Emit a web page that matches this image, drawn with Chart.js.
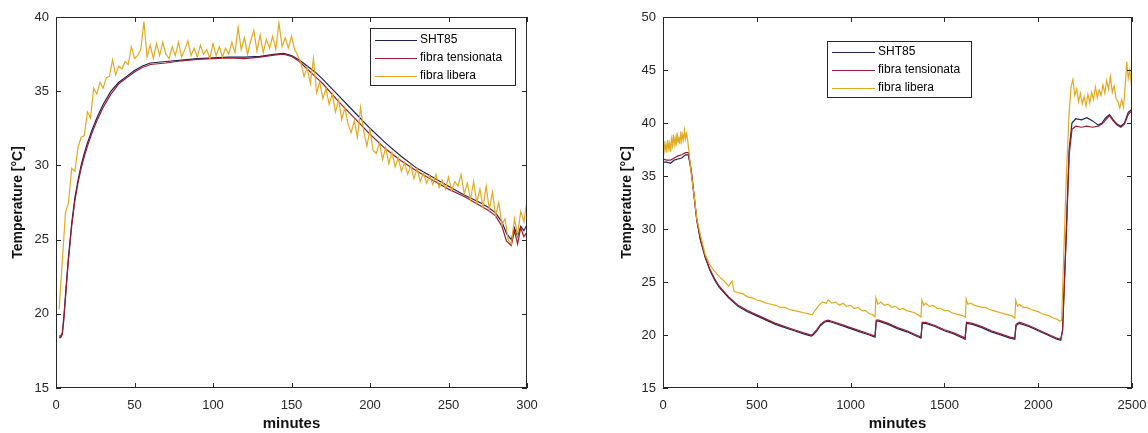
<!DOCTYPE html>
<html>
<head>
<meta charset="utf-8">
<script src="https://cdn.jsdelivr.net/npm/chart.js@4.4.0/dist/chart.umd.min.js"></script>
<style>
    html, body { margin: 0; padding: 0; background: #fff; }
    #wrap { position: relative; width: 1148px; height: 433px; }
    .panel { position: absolute; top: 0; width: 574px; height: 433px; }
</style>
</head>
<body>
<div id="wrap">
    <div class="panel" style="left:0"><canvas id="leftChart"></canvas></div>
    <div class="panel" style="left:574px"><canvas id="rightChart"></canvas></div>
</div>
<script>
// --- 1. DATA ---
const seriesLabels = ['SHT85', 'fibra tensionata', 'fibra libera'];

// left panel: 0-300 minutes
const leftTicksX = [0, 50, 100, 150, 200, 250, 300];
const leftTicksY = [15, 20, 25, 30, 35, 40];

const leftSmoothMin = [2,3,4,5,6,7,8,10,12,14, 16,18,20,23,26,30,35,40,45,50,
    55,60,70,80,90,100,110,120,130,140, 145,150,155,160,165,170,180,190,200,210,
    220,230,240,250,260,270,275,280,284,287, 290,292,294,296,298,300];
const leftSht85 = [18.5,18.5,18.7,19.8,21.2,22.6,23.9,26.1,27.8,29.0, 30.0,30.8,31.5,32.4,33.2,34.1,35.0,35.6,36.0,36.4,
    36.7,36.9,37.0,37.1,37.2,37.25,37.3,37.3,37.35,37.5, 37.55,37.4,37.1,36.7,36.3,35.8,34.7,33.6,32.5,31.5,
    30.6,29.8,29.2,28.6,28.0,27.5,27.2,26.8,26.2,25.4, 25.0,25.8,25.2,25.9,25.6,26.0];
const leftTensionata = [18.4,18.4,18.6,19.6,21.0,22.4,23.7,25.9,27.6,28.8, 29.8,30.6,31.3,32.2,33.0,33.9,34.8,35.5,35.9,36.3,
    36.6,36.8,36.9,37.05,37.15,37.2,37.25,37.2,37.3,37.45, 37.5,37.35,37.0,36.5,36.0,35.5,34.3,33.2,32.1,31.1,
    30.3,29.6,29.0,28.4,27.9,27.3,27.0,26.6,25.9,24.9, 24.6,25.6,24.7,25.8,25.2,25.5];

// fibra libera, one reading every 2 minutes from minute 2
const leftLiberaStart = 2, leftLiberaStep = 2;
const leftLibera = [
    20.3,23.5,26.8,27.5,29.8,29.6,31.2,31.9,32.0,33.6,
    33.2,35.2,34.8,35.6,35.2,35.9,36.0,37.1,36.1,36.7,
    36.5,37.0,36.8,38.0,37.2,37.4,37.8,39.7,37.3,38.1,
    37.2,38.2,37.4,38.3,37.5,37.2,38.0,37.4,38.3,37.3,
    37.8,38.4,37.4,37.9,37.3,38.1,37.5,37.8,37.2,38.2,
    37.4,38.0,37.3,37.9,37.5,38.3,37.6,39.3,37.8,38.6,
    37.5,38.4,39.1,37.7,38.8,37.6,38.5,37.9,38.7,37.8,
    39.6,38.0,38.6,37.9,38.7,37.8,37.4,36.9,36.0,36.6,
    35.5,37.2,34.9,35.6,34.5,35.2,34.1,34.8,33.6,34.4,
    33.1,33.9,32.8,32.2,33.0,31.9,33.9,32.3,31.3,32.4,
    31.0,30.8,31.5,30.4,31.2,30.1,30.9,29.9,30.5,29.6,
    30.2,29.4,30.0,29.1,29.8,28.9,29.5,28.8,29.3,28.7,
    29.4,28.5,29.0,28.4,29.2,28.3,28.9,28.6,29.4,28.1,
    28.8,27.7,28.9,27.5,28.4,27.2,28.6,27.0,28.2,26.6,
    27.5,26.0,26.4,25.0,24.7,26.4,25.3,26.9,26.2,27.6];

// right panel: 0-2500 minutes
const rightTicksX = [0, 500, 1000, 1500, 2000, 2500];
const rightTicksY = [15, 20, 25, 30, 35, 40, 45, 50];

const rightSmoothMin = [0,20,40,60,80,100,120,135, 150,165,180,200,225,250,275,300,
    350,400,450,500,550,600,650,700,750,790,
    800,820,840,860,880,900,950,1000,1050,1100,1130,
    1137,1150,1200,1250,1300,1350,1375,
    1382,1400,1450,1500,1550,1600,1610,
    1618,1650,1700,1750,1800,1850,1875,
    1882,1900,1950,2000,2050,2100,2120,2130,2150,2165,2180,
    2200,2230,2260,2290,2320,2340,2360,2380,2400,2420,2440,2460,2480,2500];
const rightSht85 = [36.3,36.3,36.2,36.5,36.6,36.7,37.0,37.0, 35.5,33.2,30.8,28.9,27.3,26.1,25.2,24.5,
    23.5,22.7,22.2,21.8,21.4,21.0,20.7,20.4,20.1,19.9,
    20.0,20.4,20.9,21.2,21.3,21.2,20.9,20.6,20.3,20.0,19.8,
    21.3,21.3,21.0,20.6,20.3,19.9,19.7,
    21.1,21.1,20.8,20.4,20.1,19.7,19.6,
    21.1,21.0,20.7,20.3,20.0,19.7,19.6,
    20.9,21.1,20.8,20.4,20.0,19.6,19.5,20.5,30.0,37.5,40.0,
    40.4,40.3,40.5,40.2,39.8,40.0,40.5,40.8,40.3,39.9,39.7,40.0,41.0,41.3];
const rightTensionata = [36.6,36.5,36.5,36.7,36.9,37.0,37.2,37.2, 35.6,33.3,30.9,29.0,27.4,26.2,25.3,24.6,
    23.6,22.8,22.3,21.9,21.5,21.1,20.8,20.5,20.2,20.0,
    20.1,20.5,21.0,21.3,21.4,21.3,21.0,20.7,20.4,20.1,19.9,
    21.4,21.4,21.1,20.7,20.4,20.0,19.8,
    21.2,21.2,20.9,20.5,20.2,19.8,19.7,
    21.2,21.1,20.8,20.4,20.1,19.8,19.7,
    21.0,21.2,20.9,20.5,20.1,19.7,19.6,20.4,29.5,37.0,39.4,
    39.7,39.6,39.7,39.6,39.7,39.9,40.3,40.7,40.2,39.8,39.6,39.9,40.8,41.2];

const rightLiberaMin = [0,5,10,15,20,25,30,35,40,45,50,55,60,65,70,75,80,85,90,95,100,105,110,115,120,125,130,
    140,150,165,180,200,225,250,275,300,
    325,350,368,380,400,425,450,475,500,525,550,575,600,625,650,675,700,725,750,775,795,
    810,830,850,870,880,900,920,940,960,980,1000,1020,1040,1060,1080,1100,1120,1130,
    1135,1145,1160,1180,1200,1220,1240,1260,1280,1300,1320,1340,1360,1375,
    1380,1390,1400,1420,1440,1460,1480,1500,1520,1540,1560,1580,1600,1612,
    1616,1625,1640,1660,1680,1700,1720,1740,1760,1780,1800,1820,1840,1860,1876,
    1880,1890,1900,1920,1940,1960,1980,2000,2020,2040,2060,2080,2100,2115,2125,
    2135,2150,2165,
    2175,2185,2195,2205,2215,2225,2235,2245,2255,2265,
    2275,2285,2295,2305,2315,2325,2335,2345,2355,2365,
    2375,2385,2395,2405,2415,2425,2435,2445,2455,2465,
    2472,2480,2488,2495,2500];
const rightLibera = [37.6,38.3,37.4,38.0,37.2,38.4,37.6,38.1,37.3,38.5,37.9,38.9,38.0,38.6,37.8,39.1,38.2,38.7,38.0,39.2,38.3,38.9,38.4,39.3,38.5,39.0,38.6,
    37.0,35.3,33.3,31.0,29.4,27.6,26.6,26.0,25.5,
    25.1,24.6,25.1,24.1,24.0,23.9,23.6,23.5,23.3,23.2,23.0,22.9,22.8,22.6,22.6,22.4,22.3,22.2,22.1,22.0,21.9,
    22.3,22.8,23.1,23.0,23.3,23.0,23.1,22.8,23.0,22.7,22.8,22.5,22.6,22.3,22.3,22.0,21.9,21.7,
    23.5,22.9,23.1,22.8,22.9,22.6,22.7,22.4,22.5,22.3,22.2,22.1,21.9,21.7,
    23.3,22.8,23.0,22.7,22.8,22.5,22.5,22.3,22.3,22.1,22.0,21.9,21.8,21.7,
    23.4,22.9,23.0,22.8,22.7,22.6,22.6,22.4,22.3,22.2,22.1,22.0,21.9,21.8,21.6,
    23.3,22.7,22.9,22.6,22.6,22.4,22.3,22.2,22.0,21.9,21.8,21.6,21.5,21.3,21.4,
    27.0,35.0,41.0,
    43.4,44.1,42.6,43.2,42.0,42.8,41.8,42.5,41.6,42.7,
    41.9,42.9,42.2,43.4,42.4,43.1,42.6,43.6,42.8,44.0,
    43.2,44.4,42.9,43.5,42.3,42.0,41.4,42.2,41.5,43.8,
    45.8,44.2,45.0,43.9,44.6];

// --- 2. STYLE ---
const axisColor = '#262626';
const lineColors = ['#1c2458', '#9a1f2e', '#e3aa1f'];
Chart.defaults.font.family = "'Liberation Sans', Arial, sans-serif";
Chart.defaults.color = axisColor;

const toXY = (xs, ys) => ys.map((y, i) => ({ x: xs[i], y }));
const evenMinutes = (start, step, n) => Array.from({ length: n }, (_, i) => start + i * step);

// box, inward ticks on all four sides and a boxed legend, matlab style
const matlabFrame = {
    id: 'matlabFrame',
    afterDraw(chart, args, opts) {
        const { ctx, chartArea: a, scales } = chart;
        const tl = 5;
        ctx.save();
        ctx.strokeStyle = axisColor;
        ctx.lineWidth = 1;
        ctx.strokeRect(Math.round(a.left) + 0.5, Math.round(a.top) + 0.5,
            Math.round(a.right - a.left) - 1, Math.round(a.bottom - a.top) - 1);
        ctx.beginPath();
        scales.x.ticks.forEach(t => {
            const px = Math.round(scales.x.getPixelForValue(t.value)) + 0.5;
            ctx.moveTo(px, a.bottom); ctx.lineTo(px, a.bottom - tl);
            ctx.moveTo(px, a.top); ctx.lineTo(px, a.top + tl);
        });
        scales.y.ticks.forEach(t => {
            const py = Math.round(scales.y.getPixelForValue(t.value)) + 0.5;
            ctx.moveTo(a.left, py); ctx.lineTo(a.left + tl, py);
            ctx.moveTo(a.right, py); ctx.lineTo(a.right - tl, py);
        });
        ctx.stroke();

        // legend
        const lx = a.left + opts.left, ly = a.top + opts.top;
        ctx.fillStyle = '#fff';
        ctx.fillRect(lx, ly, opts.width, opts.height);
        ctx.strokeRect(lx + 0.5, ly + 0.5, opts.width, opts.height);
        ctx.font = "12px 'Liberation Sans', Arial, sans-serif";
        ctx.textBaseline = 'middle';
        chart.data.datasets.forEach((ds, i) => {
            const y = ly + opts.firstRow + i * opts.rowH;
            ctx.strokeStyle = ds.borderColor;
            ctx.beginPath();
            ctx.moveTo(lx + 5, y + 0.5);
            ctx.lineTo(lx + 5 + opts.lineLen, y + 0.5);
            ctx.stroke();
            ctx.fillStyle = '#000';
            ctx.fillText(ds.label, lx + 8 + opts.lineLen, y);
        });
        ctx.restore();
    }
};

const makeChart = (id, datasets, xr, yr, yAxisWidth, rightPad, yTitlePad, legend) => {
    new Chart(document.getElementById(id), {
        type: 'line',
        data: { datasets },
        options: {
            responsive: true,
            maintainAspectRatio: false,
            animation: false,
            parsing: false,
            layout: { padding: { top: 17, right: rightPad, bottom: 0, left: 0 } },
            elements: { point: { radius: 0 }, line: { borderWidth: 1.2, tension: 0 } },
            plugins: { legend: { display: false }, tooltip: { enabled: false }, matlabFrame: legend },
            scales: {
                x: {
                    type: 'linear', min: xr.min, max: xr.max,
                    afterBuildTicks: s => { s.ticks = xr.ticks.map(v => ({ value: v })); },
                    afterFit: s => { s.height = 45; s.paddingLeft = 0; s.paddingRight = 0; },
                    grid: { display: false, drawTicks: false },
                    border: { display: false },
                    ticks: { padding: 10, font: { size: 13 }, color: axisColor, maxRotation: 0,
                        callback: v => String(v) },
                    title: { display: true, text: 'minutes', font: { size: 15, weight: 'bold' },
                        color: '#111', padding: { top: 0, bottom: 0 } }
                },
                y: {
                    type: 'linear', min: yr.min, max: yr.max,
                    afterBuildTicks: s => { s.ticks = yr.ticks.map(v => ({ value: v })); },
                    afterFit: s => { s.width = yAxisWidth; },
                    grid: { display: false, drawTicks: false },
                    border: { display: false },
                    ticks: { padding: 7, font: { size: 13 }, color: axisColor, callback: v => String(v) },
                    title: { display: true, text: 'Temperature [°C]', font: { size: 14, weight: 'bold' },
                        color: '#111', padding: { top: yTitlePad, bottom: 0 } }
                }
            }
        },
        plugins: [matlabFrame]
    });
};

const buildSets = (a, b, c) => [
    { label: seriesLabels[0], data: a, borderColor: lineColors[0], order: 3 },
    { label: seriesLabels[1], data: b, borderColor: lineColors[1], order: 2 },
    { label: seriesLabels[2], data: c, borderColor: lineColors[2], order: 1 }
];

// --- 3. CHARTS ---
makeChart('leftChart',
    buildSets(
        toXY(leftSmoothMin, leftSht85),
        toXY(leftSmoothMin, leftTensionata),
        toXY(evenMinutes(leftLiberaStart, leftLiberaStep, leftLibera.length), leftLibera)),
    { min: 0, max: 300, ticks: leftTicksX },
    { min: 15, max: 40, ticks: leftTicksY },
    56, 47, 10,
    { left: 314, top: 11, width: 145, height: 57, lineLen: 42, firstRow: 12, rowH: 18 });

makeChart('rightChart',
    buildSets(
        toXY(rightSmoothMin, rightSht85),
        toXY(rightSmoothMin, rightTensionata),
        toXY(rightLiberaMin, rightLibera)),
    { min: 0, max: 2500, ticks: rightTicksX },
    { min: 15, max: 50, ticks: rightTicksY },
    89, 16, 45,
    { left: 164, top: 24, width: 144, height: 56, lineLen: 43, firstRow: 11, rowH: 18 });
</script>
</body>
</html>
